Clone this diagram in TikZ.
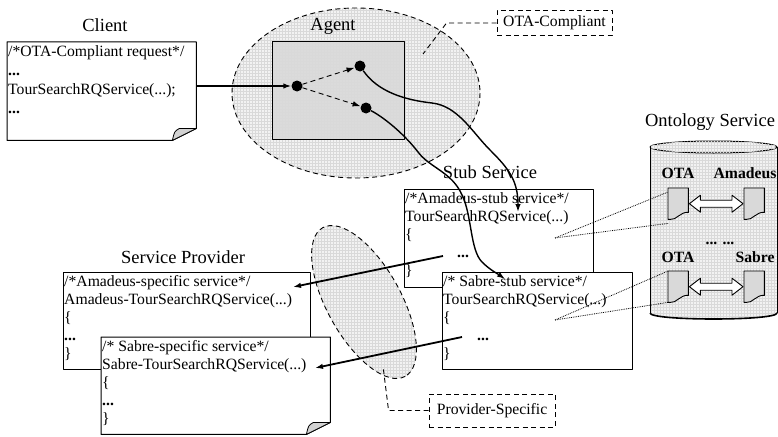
\documentclass[tikz,border=0pt]{standalone}
\usepackage{fontspec}
\setmainfont{Liberation Serif}
\usetikzlibrary{arrows.meta,calc,patterns}

\tikzset{
  code/.style={font=\fontsize{15.7}{18}\selectfont, align=left, anchor=north west, inner xsep=1pt, inner ysep=3pt},
  heading/.style={font=\fontsize{18.5}{20}\selectfont, anchor=base},
  pagebox/.style={anchor=north west, inner sep=0pt},
  textured/.style={fill=#1, postaction={pattern=grid, pattern color=gray!30}},
  dashline/.style={line width=0.9pt, dash pattern=on 5pt off 3.5pt},
  dot/.style={circle, fill=black, inner sep=0pt, minimum size=11pt},
  note/.style={draw, dashline, font=\fontsize{15.7}{18}\selectfont, inner sep=0pt},
  termdoc/.style={anchor=north west, inner sep=0pt, minimum width=20pt, minimum height=31pt},
  dotline/.style={densely dotted, line width=0.8pt},
}

% sheet of paper with the lower right corner turned up
\newcommand\foldedpage[1]{%
  \filldraw[fill=white, line width=1pt] (#1.north west) -- (#1.north east)
    -- ([yshift=12pt]#1.south east) -- ([xshift=-24pt]#1.south east)
    -- (#1.south west) -- cycle;
  \filldraw[fill=gray!35, line width=0.8pt] ([xshift=-24pt]#1.south east)
    .. controls ([xshift=-22pt,yshift=9pt]#1.south east) .. ([xshift=-17pt,yshift=12pt]#1.south east)
    -- ([yshift=12pt]#1.south east) -- cycle;}
\newcommand\flatpage[1]{%
  \filldraw[fill=white, line width=1pt] (#1.north west) rectangle (#1.south east);}
% small term sheet inside the ontology store
\newcommand\ontodoc[1]{%
  \filldraw[fill=gray!30, line width=0.9pt] (#1.north west) -- (#1.north east)
    -- ([yshift=7pt]#1.south east)
    .. controls ([xshift=-8pt,yshift=8pt]#1.south east) and ([xshift=-12pt,yshift=-1pt]#1.south east)
    .. ([xshift=-18pt]#1.south east) -- (#1.south west) -- cycle;}
% hollow two-headed arrow between two term sheets
\newcommand\swaparrow[2]{%
  \filldraw[fill=white, line width=0.9pt] ([xshift=1pt]#1.east) -- ++(11,-8.5) -- ++(0,5)
    -- ($([xshift=-12pt]#2.west)+(0,-3.5)$) -- ++(0,-5) -- ([xshift=-1pt]#2.west)
    -- ++(-11,8.5) -- ++(0,-5) -- ($([xshift=12pt]#1.east)+(0,3.5)$) -- ++(0,5) -- cycle;}

\begin{document}
\begin{tikzpicture}[x=1pt, y=-1pt, line join=round,
    >={Latex[length=8pt,width=5.5pt]}]
  \useasboundingbox (0,0) rectangle (778,436);

  % agent
  \path[textured=gray!10] (356,93) ellipse [x radius=124, y radius=85];
  \draw[dashline] (356,93) ellipse [x radius=124, y radius=85];
  \node[heading] (agentlbl) at (333,31) {Agent};
  \node[pagebox, textured=gray!28, minimum width=132pt, minimum height=97pt] (agent) at (272,42) {};
  \draw[line width=1pt] (agent.north west) rectangle (agent.south east);
  \node[dot] (d1) at (297,86) {};
  \node[dot] (d2) at (360,66) {};
  \node[dot] (d3) at (366,108) {};
  \draw[dashline, ->] (d1) -- (d2);
  \draw[dashline, ->] (d1) -- (d3);

  \node[note, minimum width=115pt, minimum height=25pt] (otac) at (554.5,23) {OTA-Compliant};
  \coordinate (otaend) at (423,54);
  \draw[dashline] (otac.west) -- ++(-50,0) -- (otaend);

  % ontology service
  \path[textured=gray!10] (650,147) -- (650,313) .. controls (650,321) and (777,321) .. (777,313) -- (777,147) -- cycle;
  \draw[line width=1pt] (650,147) -- (650,313);
  \draw[line width=1pt] (777,147) -- (777,313);
  \draw[line width=1.6pt] (650,313) .. controls (650,321) and (777,321) .. (777,313);
  \draw[line width=1pt, textured=gray!10] (713.5,147) ellipse [x radius=63.5, y radius=6];
  \node[heading] (onto) at (710,126) {Ontology Service};
  \node[termdoc] (oa1) at (668,188) {};
  \node[termdoc] (oa2) at (744,188) {};
  \node[termdoc] (os1) at (668,271) {};
  \node[termdoc] (os2) at (744,271) {};
  \foreach \d in {oa1,oa2,os1,os2} \ontodoc{\d};
  \swaparrow{oa1}{oa2}
  \swaparrow{os1}{os2}
  \begin{scope}[font=\fontsize{15.7}{18}\selectfont\bfseries, anchor=base]
    \node (ota1) at (678,178) {OTA};
    \node (amad) at (745,178) {Amadeus};
    \node (more) at (720,244) {... ...};
    \node (ota2) at (678,262) {OTA};
    \node (sabr) at (755,262) {Sabre};
  \end{scope}

  % provider specific
  \begin{scope}[shift={(364,302)}, rotate=-61]
    \path[textured=gray!10] (0,0) ellipse [x radius=85, y radius=37];
    \draw[dashline] (0,0) ellipse [x radius=85, y radius=37];
  \end{scope}
  \node[note, minimum width=126pt, minimum height=33pt] (provs) at (492,410.5) {Provider-Specific};
  \coordinate (provend) at (383,366);
  \draw[dashline] (provs.west) -- ++(-40,0) -- (provend);

  % client
  \node[heading] (clientlbl) at (105,32) {Client};
  \node[pagebox, minimum width=189pt, minimum height=98pt] (client) at (7,42) {};
  \foldedpage{client}
  \node[code, font=\fontsize{15.7}{19}\selectfont] (clienttxt) at (client.north west)
    {/*OTA-Compliant request*/\\\textbf{...}\\TourSearchRQService(...);\\\textbf{...}};

  % service provider
  \node[heading] (provlbl) at (183,263) {Service Provider};
  \node[pagebox, minimum width=247pt, minimum height=97pt] (aspec) at (63,272) {};
  \flatpage{aspec}
  \node[code] (aspectxt) at (aspec.north west)
    {/*Amadeus-specific service*/\\Amadeus-TourSearchRQService(...)\\\{\\\textbf{...}\\\}};
  \node[pagebox, minimum width=229pt, minimum height=97pt] (sspec) at (101,337) {};
  \foldedpage{sspec}
  \node[code] (sspectxt) at (sspec.north west)
    {/* Sabre-specific service*/\\Sabre-TourSearchRQService(...)\\\{\\\textbf{...}\\\}};

  % stub service
  \node[heading] (stublbl) at (490,178) {Stub Service};
  \node[pagebox, minimum width=189pt, minimum height=98pt] (astub) at (404,189) {};
  \flatpage{astub}
  \node[code] (astubtxt) at (astub.north west)
    {/*Amadeus-stub service*/\\TourSearchRQService(...)\\\{\\\hspace*{52pt}\textbf{...}\\\}};
  \node[pagebox, minimum width=190pt, minimum height=97pt] (sstub) at (442,272) {};
  \flatpage{sstub}
  \node[code] (sstubtxt) at (sstub.north west)
    {/* Sabre-stub service*/\\TourSearchRQService(...)\\\{\\\hspace*{34pt}\textbf{...}\\\}};

  % links to the ontology
  \coordinate (sa) at (555,238);
  \coordinate (sb) at (555,320);
  \draw[dotline] (sa) -- ([yshift=-4pt]oa1.north west);
  \draw[dotline] (sa) -- ([yshift=-4pt]oa1.south west);
  \draw[dotline] (sb) -- (os1.north west);
  \draw[dotline] (sb) -- (os1.south west);

  % calls
  \draw[line width=1.8pt, ->] (client.east |- d1) -- (d1);
  \coordinate (amadin) at (518,212);
  \coordinate (sabrin) at (505,279);
  \draw[line width=1.4pt, ->] (d2) .. controls (378,92) and (405,100) .. (432,103)
    .. controls (458,106) and (472,132) .. (490,150)
    .. controls (508,168) and (518,180) .. (amadin);
  \draw[line width=1.4pt, ->] (d3) .. controls (385,118) and (405,135) .. (418,152)
    .. controls (430,168) and (452,172) .. (462,195)
    .. controls (472,215) and (470,250) .. (482,262)
    .. controls (490,270) and (498,274) .. (sabrin);
  \coordinate (acall) at (443,256);
  \coordinate (scall) at (462,337);
  \coordinate (aspecin) at (293,287);
  \coordinate (sspecin) at (315,368);
  \draw[line width=1.8pt, ->] (acall) -- (aspecin);
  \draw[line width=1.8pt, ->] (scall) -- (sspecin);
\end{tikzpicture}
\end{document}
